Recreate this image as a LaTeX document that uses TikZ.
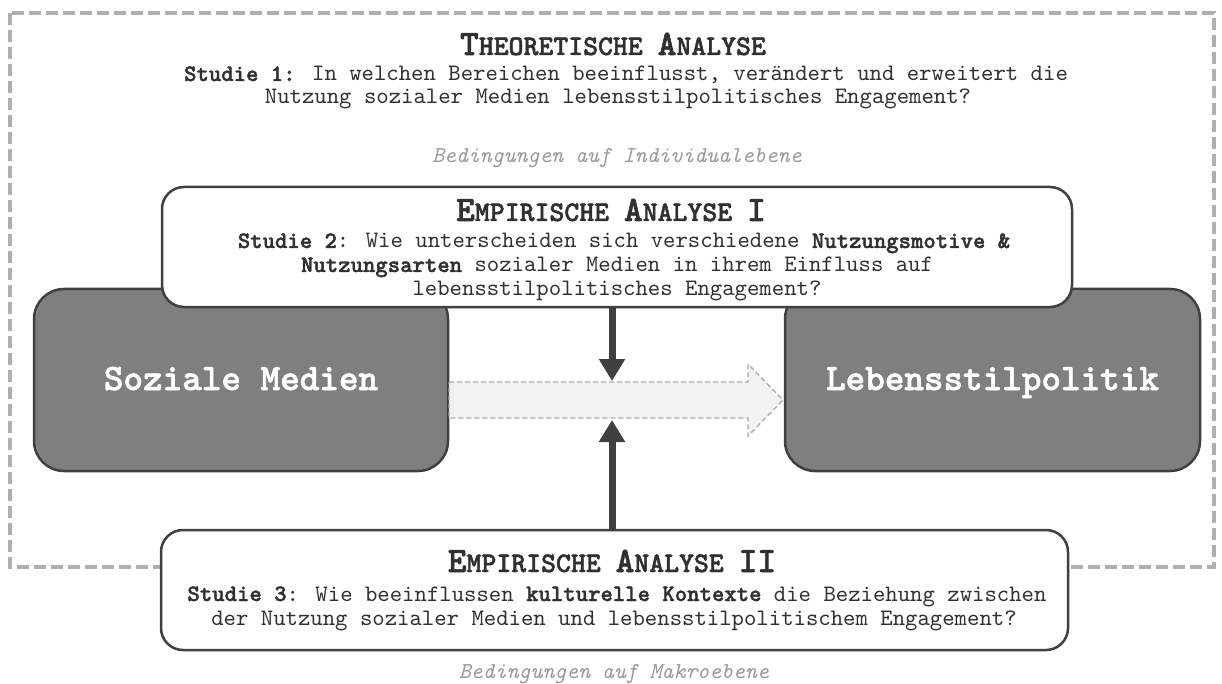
\documentclass[tikz,border=0pt]{standalone}
\usepackage{fontspec}
\setmainfont{lmmono10-regular}[Extension=.otf, BoldFont=lmmonolt10-bold, BoldFeatures={FakeBold=1.6}, ItalicFont=lmmono10-italic]
\usetikzlibrary{arrows.meta}
\definecolor{dark}{HTML}{404040}
\definecolor{boxgray}{HTML}{7F7F7F}
\definecolor{txt}{HTML}{303030}
\definecolor{dashc}{HTML}{AFAFAF}
\definecolor{lbl}{HTML}{9A9A9A}
\definecolor{arrfill}{HTML}{F2F2F2}
\definecolor{arrline}{HTML}{ABABAB}
\newcommand{\scap}[1]{{\fontsize{28.4}{30}\selectfont #1}}
\begin{document}
\begin{tikzpicture}[x=1pt,y=-1pt,
  every node/.style={inner sep=0pt, outer sep=0pt, text=txt},
  titlestyle/.style={anchor=base, font=\fontsize{35.6}{36}\selectfont\bfseries},
  bodystyle/.style={anchor=base, font=\fontsize{23.6}{24}\selectfont},
  lblstyle/.style={anchor=base, font=\fontsize{22.7}{24}\selectfont\itshape, text=lbl},
  wbox/.style={draw=dark, line width=2.5pt, fill=white, rounded corners=22pt},
  gbox/.style={draw=dark, line width=2.5pt, fill=boxgray, rounded corners=30pt},
  gtext/.style={anchor=base, text=white, font=\fontsize{37.3}{38}\selectfont\bfseries},
  varrow/.style={draw=dark, line width=7pt, -{Triangle[length=22pt,width=25pt]}},
  bigarrow/.style={draw=arrline, fill=arrfill, line width=1.3pt, dash pattern=on 5pt off 3pt},
  frame/.style={draw=dashc, line width=4pt, dash pattern=on 12pt off 5pt},
]
\useasboundingbox (0,0) rectangle (1222,684);
\fill[white] (0,0) rectangle (1222,684);

% outer dashed frame
\draw[frame] (10,13) rectangle (1214,567);

% top texts
\node[titlestyle] (t0) at (613,55) {T\scap{HEORETISCHE }A\scap{NALYSE}};
\node[bodystyle] (q1a) at (626,81) {\textbf{Studie 1:} In welchen Bereichen beeinflusst, verändert und erweitert die};
\node[bodystyle] (q1b) at (618,104) {Nutzung sozialer Medien lebensstilpolitisches Engagement?};
\node[lblstyle] (l1) at (617,163) {Bedingungen auf Individualebene};

% grey boxes
\node[gbox, minimum width=414pt, minimum height=182pt] (sm) at (241,380) {};
\node[gtext] (smt) at (241,390) {Soziale Medien};
\node[gbox, minimum width=415pt, minimum height=182pt] (lp) at (992.5,380) {};
\node[gtext] (lpt) at (992.5,390) {Lebensstilpolitik};

% big arrow
\draw[bigarrow] (449,382) -- (748,382) -- (748,364) -- (783,400) -- (748,436) -- (748,418) -- (449,418) -- cycle;

% empirical analysis I
\node[wbox, minimum width=910pt, minimum height=120pt] (ea1) at (617,247) {};
\node[titlestyle] (t1) at (611,221) {E\scap{MPIRISCHE }A\scap{NALYSE }I};
\node[bodystyle] (q2a) at (624,248) {\textbf{Studie 2}: Wie unterscheiden sich verschiedene \textbf{Nutzungsmotive \&}};
\node[bodystyle] (q2b) at (617,272) {\textbf{Nutzungsarten} sozialer Medien in ihrem Einfluss auf};
\node[bodystyle] (q2c) at (617,296) {lebensstilpolitisches Engagement?};

% empirical analysis II
\node[wbox, minimum width=907pt, minimum height=120pt] (ea2) at (614.5,590) {};
\node[titlestyle] (t2) at (612,572) {E\scap{MPIRISCHE }A\scap{NALYSE }II};
\node[bodystyle] (q3a) at (617,601) {\textbf{Studie 3}: Wie beeinflussen \textbf{kulturelle Kontexte} die Beziehung zwischen};
\node[bodystyle] (q3b) at (614,625) {der Nutzung sozialer Medien und lebensstilpolitischem Engagement?};
\node[lblstyle] (l2) at (614,678) {Bedingungen auf Makroebene};

% vertical arrows
\coordinate (dtip) at (612,381);
\coordinate (utip) at (612,420);
\draw[varrow] (ea1.south -| dtip) -- (dtip);
\draw[varrow] (ea2.north -| utip) -- (utip);
\end{tikzpicture}
\end{document}
